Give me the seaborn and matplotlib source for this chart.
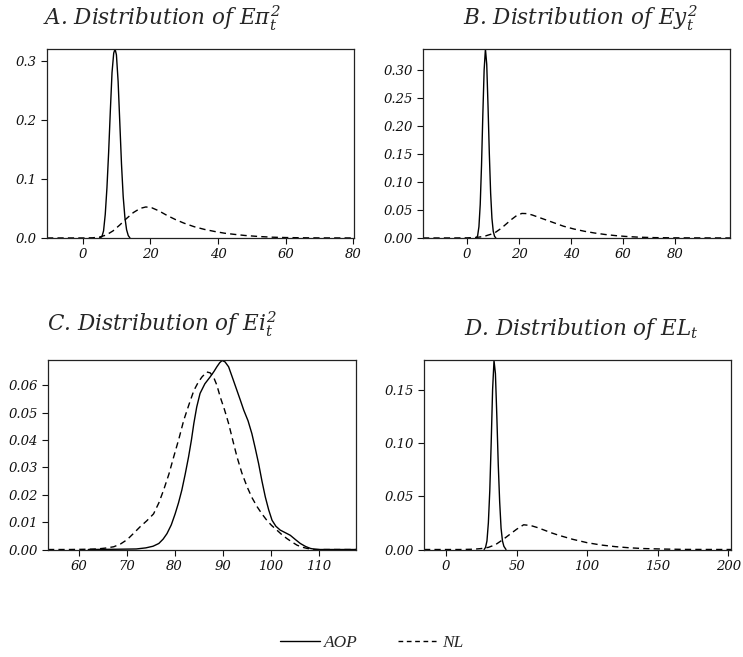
import numpy as np
import pandas as pd
import matplotlib
matplotlib.use('Agg')
import matplotlib.pyplot as plt
from matplotlib.lines import Line2D
import seaborn as sns

# Density curves (x, density)
aop_a_x = [5.0, 5.7, 6.2, 6.7, 7.2, 7.7, 8.2, 8.7, 9.2, 9.6, 10.0, 10.5, 11.0, 11.5, 12.0, 12.5, 13.0, 13.5, 14.0]
aop_a_y = [0.0, 0.002, 0.012, 0.04, 0.085, 0.145, 0.215, 0.28, 0.313, 0.32, 0.31, 0.265, 0.195, 0.125, 0.07, 0.035, 0.014, 0.004, 0.0]
nl_a_x = [-10.5, -5, 0, 3, 5, 7, 9, 11, 13, 15, 17, 18.7, 20.5, 22.5, 25, 27.5, 30, 33, 36, 39, 42, 45, 48, 52, 56, 60, 65, 70, 80.2]
nl_a_y = [0, 0, 0, 0.0003, 0.0015, 0.005, 0.012, 0.022, 0.033, 0.043, 0.05, 0.0525, 0.051, 0.046, 0.038, 0.031,
          0.025, 0.019, 0.0145, 0.011, 0.008, 0.006, 0.0042, 0.0025, 0.0013, 0.0007, 0.0003, 0.0001, 0]

aop_b_x = [3.5, 4.0, 4.5, 5.0, 5.5, 6.0, 6.5, 7.0, 7.5, 8.0, 8.5, 9.0, 9.5, 10.0, 10.5, 11.0]
aop_b_y = [0, 0.004, 0.02, 0.06, 0.13, 0.22, 0.30, 0.3375, 0.31, 0.235, 0.15, 0.08, 0.035, 0.012, 0.003, 0]
nl_b_x = [-17, -5, 0, 3, 5, 7, 9, 11, 13, 15, 17, 19, 21, 23, 25, 28, 31, 34, 37, 41, 45, 49, 53, 57, 61, 66, 72, 80, 101]
nl_b_y = [0, 0, 0.0002, 0.0008, 0.0018, 0.0036, 0.0065, 0.0105, 0.017, 0.025, 0.033, 0.04, 0.0438, 0.0435, 0.041,
          0.036, 0.031, 0.026, 0.021, 0.016, 0.012, 0.0088, 0.0062, 0.0042, 0.0027, 0.0014, 0.0006, 0.0002, 0]

aop_c_x = [62, 68, 72, 74, 75.5, 76.7, 77.6, 78.4, 79.3, 80.1, 80.8, 81.5, 82.2, 82.9, 83.5, 84, 84.6, 85.3, 86.3,
           87.4, 88.2, 88.8, 89.4, 89.9, 90.5, 91.25, 92.1, 93, 93.7, 94.4, 95.3, 96.1, 96.8, 97.5, 98.2, 98.9,
           99.6, 100.3, 101.1, 102, 103, 104.1, 105.2, 106.2, 107.3, 108.3, 109.2, 110, 114, 117.8]
aop_c_y = [0, 0.0001, 0.0002, 0.0006, 0.0012, 0.0022, 0.0038, 0.0058, 0.009, 0.013, 0.017, 0.0217, 0.0275, 0.0338,
           0.040, 0.046, 0.052, 0.057, 0.0605, 0.063, 0.065, 0.0667, 0.0682, 0.069, 0.0685, 0.0667, 0.0625, 0.058,
           0.0545, 0.0509, 0.047, 0.0423, 0.037, 0.0314, 0.025, 0.0192, 0.0145, 0.0107, 0.0085, 0.0071, 0.0062,
           0.0052, 0.0036, 0.0022, 0.0011, 0.0004, 0.0001, 0, 0, 0]
nl_c_x = [53.6, 58, 62, 63.8, 65.5, 67.3, 68.7, 70.1, 71.5, 72.8, 74.2, 75.6, 76.7, 77.7, 78.8, 79.8, 80.9, 81.9,
          83, 84, 84.9, 85.7, 86.7, 87.4, 88.1, 88.8, 89.5, 90.4, 91.25, 92.1, 93, 94, 95.1, 96.1, 97.2, 98.2,
          99.2, 100.2, 101.3, 102.3, 103.4, 104.5, 105.5, 106.5, 107.6, 108.8, 110, 114, 117.8]
nl_c_y = [0, 0, 0.0001, 0.0002, 0.0005, 0.001, 0.002, 0.0036, 0.006, 0.0083, 0.0105, 0.013, 0.017, 0.0217, 0.0275,
          0.0338, 0.0405, 0.0472, 0.053, 0.058, 0.061, 0.063, 0.0648, 0.0645, 0.063, 0.06, 0.0557, 0.051, 0.046,
          0.040, 0.0338, 0.028, 0.0229, 0.019, 0.0156, 0.013, 0.0107, 0.0088, 0.0071, 0.0055, 0.004, 0.0027,
          0.0016, 0.0009, 0.0004, 0.0001, 0, 0, 0]

aop_d_x = [27, 28, 29, 30, 31, 32, 33, 34, 35, 36, 37, 38, 39, 40, 41, 42.5]
aop_d_y = [0, 0.002, 0.008, 0.025, 0.055, 0.1, 0.15, 0.1773, 0.165, 0.125, 0.08, 0.045, 0.02, 0.008, 0.003, 0]
nl_d_x = [-15.6, 0, 10, 20, 25, 30, 35, 40, 45, 50, 55, 60, 65, 70, 75, 80, 90, 100, 110, 120, 130, 140, 155, 170, 202]
nl_d_y = [0, 0, 0, 0.0003, 0.0009, 0.002, 0.0045, 0.009, 0.014, 0.019, 0.0232, 0.0225, 0.0205, 0.018, 0.0155,
          0.0133, 0.0095, 0.0064, 0.0042, 0.0027, 0.0016, 0.0009, 0.0004, 0.0001, 0]

titles = ['A. Distribution of $E\\pi_t^2$', 'B. Distribution of $Ey_t^2$',
          'C. Distribution of $Ei_t^2$', 'D. Distribution of $EL_t$']
xticks = [[0, 20, 40, 60, 80], [0, 20, 40, 60, 80], [60, 70, 80, 90, 100, 110], [0, 50, 100, 150, 200]]
yticks = [[0.0, 0.1, 0.2, 0.3], [0.0, 0.05, 0.10, 0.15, 0.20, 0.25, 0.30],
          [0.0, 0.01, 0.02, 0.03, 0.04, 0.05, 0.06], [0.0, 0.05, 0.10, 0.15]]
yfmt = ['{:.1f}', '{:.2f}', '{:.2f}', '{:.2f}']
xlims = [(-10.5, 80.2), (-17, 101), (53.6, 117.8), (-15.6, 202)]
ylims = [(0, 0.32), (0, 0.3375), (0, 0.069), (0, 0.1773)]

curves = [(aop_a_x, aop_a_y, nl_a_x, nl_a_y), (aop_b_x, aop_b_y, nl_b_x, nl_b_y),
          (aop_c_x, aop_c_y, nl_c_x, nl_c_y), (aop_d_x, aop_d_y, nl_d_x, nl_d_y)]

sns.set_style('ticks')
plt.rcParams['font.family'] = ['DejaVu Serif']
plt.rcParams['font.style'] = 'italic'
plt.rcParams['mathtext.fontset'] = 'dejavuserif'

fig = plt.figure(figsize=(7.43, 6.57), dpi=100)
boxes = [[0.0633, 0.6378, 0.4132, 0.2877], [0.5693, 0.6378, 0.4132, 0.2877],
         [0.0646, 0.1636, 0.4145, 0.2877], [0.5707, 0.1636, 0.4132, 0.2877]]
title_pos = [(0.218, 0.962), (0.781, 0.962), (0.218, 0.496), (0.783, 0.490)]
dash = (4.5, 3)

for i in range(4):
    ax = fig.add_axes(boxes[i])
    ax_x, ax_y, nx, ny = curves[i]
    df = pd.concat([pd.DataFrame({'x': ax_x, 'y': ax_y, 'model': 'AOP'}),
                    pd.DataFrame({'x': nx, 'y': ny, 'model': 'NL'})])
    sns.lineplot(data=df, x='x', y='y', style='model', dashes={'AOP': '', 'NL': dash},
                 color='black', linewidth=1.0, estimator=None, sort=False, legend=False, ax=ax)
    ax.set_xlim(xlims[i])
    ax.set_ylim(ylims[i])
    ax.set_xticks(xticks[i])
    ax.set_yticks(yticks[i])
    ax.set_yticklabels([yfmt[i].format(v) for v in yticks[i]])
    ax.set_xlabel('')
    ax.set_ylabel('')
    ax.tick_params(direction='out', length=4, width=0.8, labelsize=9.5, colors='#111111')
    for s in ax.spines.values():
        s.set_visible(True)
        s.set_linewidth(0.9)
        s.set_color('#222222')
    for lab in ax.get_xticklabels() + ax.get_yticklabels():
        lab.set_fontstyle('italic')
    fig.text(title_pos[i][0], title_pos[i][1], titles[i], ha='center', va='baseline',
             fontsize=15.5, fontstyle='italic')

handles = [Line2D([0], [0], color='black', lw=1.0),
           Line2D([0], [0], color='black', lw=1.0, dashes=(3.4, 2.6))]
fig.legend(handles, ['AOP', 'NL'], loc='center', bbox_to_anchor=(0.5, 1 - 643 / 657), ncol=2,
           frameon=False, handlelength=2.3, columnspacing=2.3, handletextpad=0.25,
           prop={'family': 'Liberation Serif', 'style': 'italic', 'size': 12.5})

fig.savefig('out.png', dpi=100)
